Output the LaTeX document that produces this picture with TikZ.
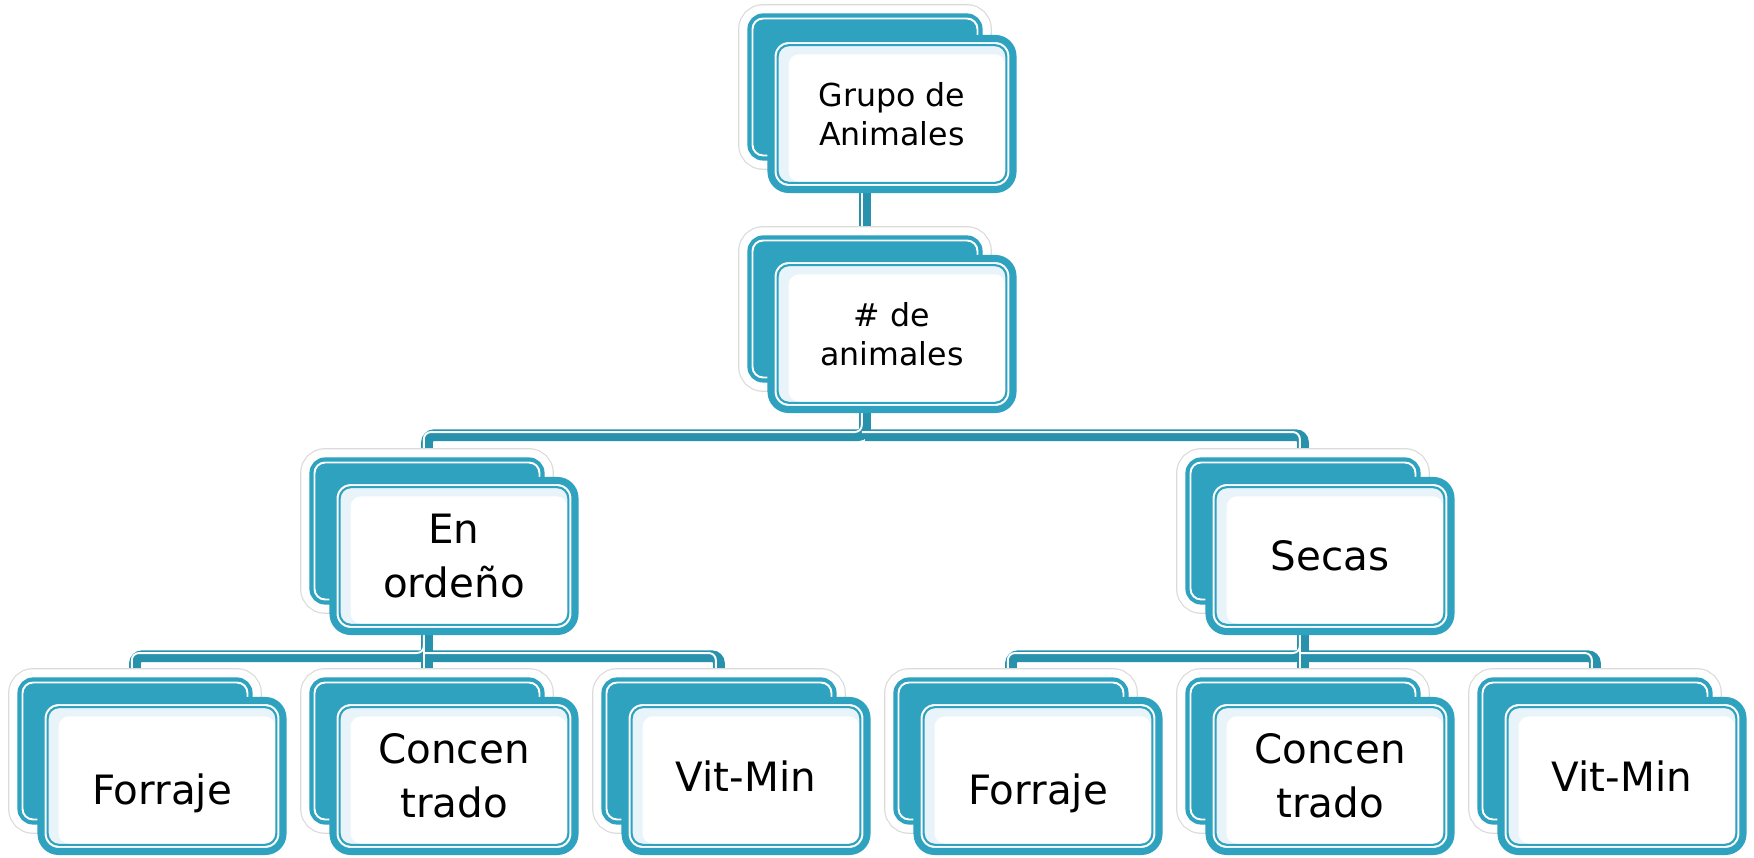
\documentclass[tikz,border=0pt]{standalone}
\usepackage{fontspec}
\setmainfont{DejaVu Sans}
\usetikzlibrary{calc,positioning}
\pgfdeclarelayer{background}
\pgfsetlayers{background,main}
\definecolor{boxteal}{RGB}{46,162,191}
\definecolor{linkteal}{RGB}{40,146,172}
\definecolor{paleblue}{RGB}{232,244,250}

\tikzset{
	backbox/.style={draw=boxteal, line width=.9pt, fill=boxteal, rounded corners=4pt,
		minimum width=2.32cm, minimum height=1.44cm, inner sep=0pt,
		preaction={draw=black!14, line width=6.2pt},
		preaction={draw=white, line width=5.5pt},
		path picture={\draw[white, line width=.55pt, rounded corners=3pt]
			([shift={(1pt,1pt)}]path picture bounding box.south west) rectangle
			([shift={(-1pt,-1pt)}]path picture bounding box.north east);}},
	frontbox/.style={draw=boxteal, line width=2pt, fill=paleblue, rounded corners=5pt,
		minimum width=2.42cm, minimum height=1.51cm, inner sep=0pt, align=center,
		font=\fontsize{11.5}{15.2}\selectfont,
		path picture={
			\fill[white, rounded corners=3pt]
				([shift={(5pt,2.2pt)}]path picture bounding box.south west) rectangle
				([shift={(-2.2pt,-4.5pt)}]path picture bounding box.north east);
			\draw[white, line width=.6pt, rounded corners=3.8pt]
				([shift={(1.3pt,1.3pt)}]path picture bounding box.south west) rectangle
				([shift={(-1.3pt,-1.3pt)}]path picture bounding box.north east);
			\draw[boxteal, line width=.6pt, rounded corners=3.2pt]
				([shift={(1.9pt,1.9pt)}]path picture bounding box.south west) rectangle
				([shift={(-1.9pt,-1.9pt)}]path picture bounding box.north east);}},
	smalltext/.style={font=\fontsize{9}{11.2}\selectfont},
	link/.style={draw=linkteal, line width=3.3pt, rounded corners=2pt},
	linkhi/.style={draw=white, line width=.55pt, rounded corners=2pt,
		transform canvas={xshift=-.9pt, yshift=.9pt}}
}

\begin{document}
\begin{tikzpicture}
	\useasboundingbox (0,0) rectangle (17.54,-8.58);

	% Place nodes
	\node [backbox] (b-grupo) at (8.65,-0.87) {};
	\node [frontbox, smalltext] (grupo) at ([shift={(.27,-.27)}]b-grupo.center) {Grupo de\\Animales};

	\node [backbox] (b-num) at (8.65,-3.09) {};
	\node [frontbox, smalltext] (num) at ([shift={(.27,-.25)}]b-num.center) {\# de\\animales};

	\node [backbox] (b-ord) at (4.27,-5.31) {};
	\node [frontbox] (ord) at ([shift={(.27,-.25)}]b-ord.center) {En\\ordeño};

	\node [backbox] (b-sec) at (13.03,-5.31) {};
	\node [frontbox] (sec) at ([shift={(.27,-.25)}]b-sec.center) {Secas};

	\node [backbox] (b-forl) at (1.35,-7.51) {};
	\node [frontbox] (forl) at ([shift={(.27,-.25)}]b-forl.center) {\raisebox{-8pt}[0pt][0pt]{Forraje}};

	\node [backbox] (b-conl) at (4.27,-7.51) {};
	\node [frontbox] (conl) at ([shift={(.27,-.25)}]b-conl.center) {Concen\\trado};

	\node [backbox] (b-vitl) at (7.19,-7.51) {};
	\node [frontbox] (vitl) at ([shift={(.27,-.25)}]b-vitl.center) {Vit-Min};

	\node [backbox] (b-forr) at (10.11,-7.51) {};
	\node [frontbox] (forr) at ([shift={(.27,-.25)}]b-forr.center) {\raisebox{-8pt}[0pt][0pt]{Forraje}};

	\node [backbox] (b-conr) at (13.03,-7.51) {};
	\node [frontbox] (conr) at ([shift={(.27,-.25)}]b-conr.center) {Concen\\trado};

	\node [backbox] (b-vitr) at (15.95,-7.51) {};
	\node [frontbox] (vitr) at ([shift={(.27,-.25)}]b-vitr.center) {Vit-Min};

	% Junctions of the bars
	\coordinate (j1) at ($(b-num.center |- num.south)!.5!(b-num.center |- b-ord.north)$);
	\coordinate (j2) at ($(b-ord.center |- ord.south)!.5!(b-ord.center |- b-conl.north)$);
	\coordinate (j3) at ($(b-sec.center |- sec.south)!.5!(b-sec.center |- b-conr.north)$);

	% Draw edges
	\begin{pgfonlayer}{background}
	\draw [link] (b-grupo.center) -- (b-num.center);
	\draw [link] (b-num.center) -- (j1) -| (b-ord.center) (j1) -| (b-sec.center);
	\draw [link] (b-ord.center) -- (j2) -| (b-forl.center) (j2) -| (b-vitl.center);
	\draw [link] (b-ord.center) -- (b-conl.center);
	\draw [link] (b-sec.center) -- (j3) -| (b-forr.center) (j3) -| (b-vitr.center);
	\draw [link] (b-sec.center) -- (b-conr.center);

	\draw [linkhi] (b-grupo.center) -- (b-num.center);
	\draw [linkhi] (b-num.center) -- (j1) -| (b-ord.center) (j1) -| (b-sec.center);
	\draw [linkhi] (b-ord.center) -- (j2) -| (b-forl.center) (j2) -| (b-vitl.center);
	\draw [linkhi] (b-ord.center) -- (b-conl.center);
	\draw [linkhi] (b-sec.center) -- (j3) -| (b-forr.center) (j3) -| (b-vitr.center);
	\draw [linkhi] (b-sec.center) -- (b-conr.center);
	\end{pgfonlayer}
\end{tikzpicture}
\end{document}
